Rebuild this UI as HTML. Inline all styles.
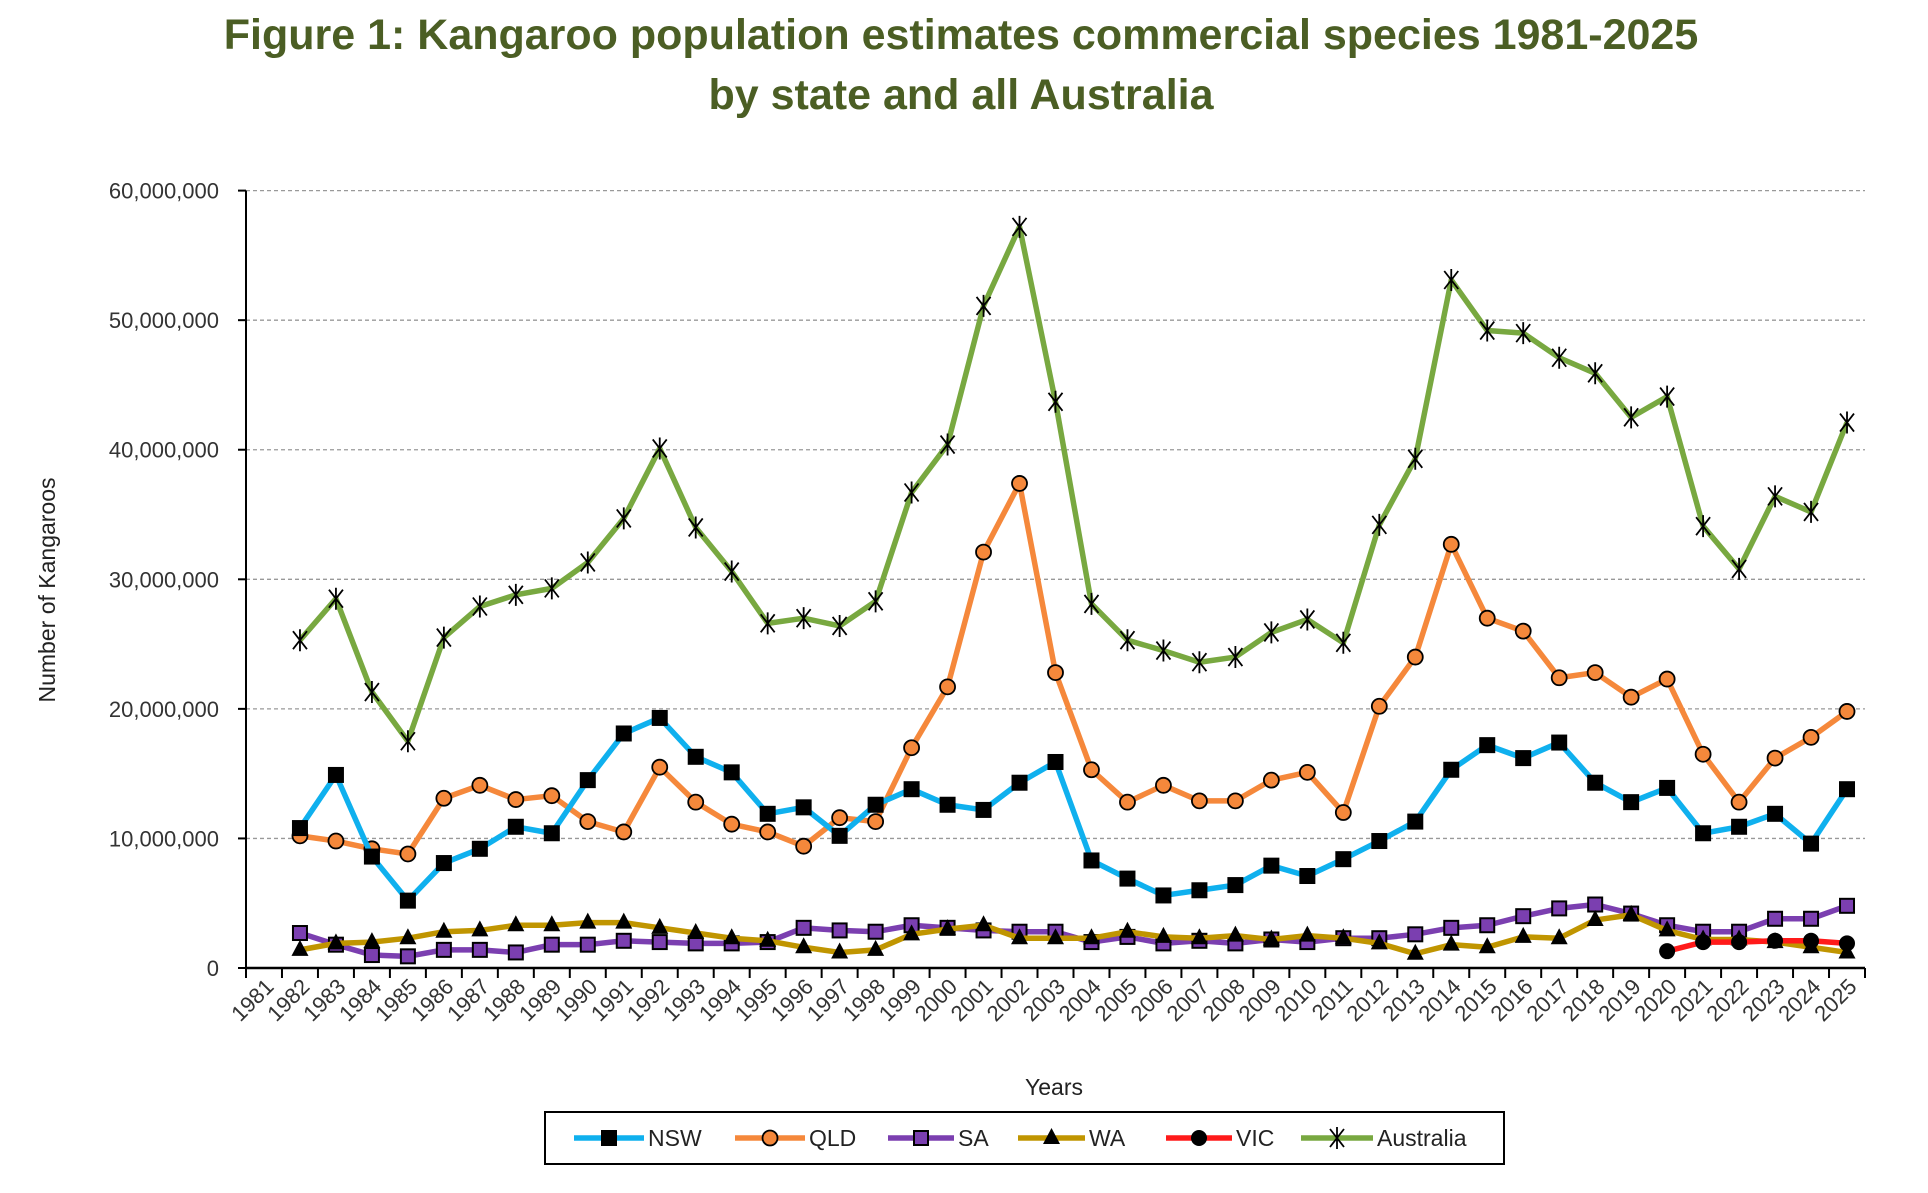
<!DOCTYPE html>
<html><head><meta charset="utf-8"><style>
html,body{margin:0;padding:0;background:#fff;}
svg{display:block;font-family:"Liberation Sans",sans-serif;}
</style></head><body>
<svg id="chart" width="1928" height="1193" viewBox="0 0 1928 1193" xmlns="http://www.w3.org/2000/svg">
<text x="961" y="49" text-anchor="middle" font-size="43" font-weight="bold" fill="#4b5e24">Figure 1: Kangaroo population estimates commercial species 1981-2025</text>
<text x="961" y="109" text-anchor="middle" font-size="43" font-weight="bold" fill="#4b5e24">by state and all Australia</text>
<g id="grid"></g><g id="axes"></g><g id="series"></g>
<text transform="translate(55,590) rotate(-90)" text-anchor="middle" font-size="23" fill="#222">Number  of Kangaroos</text>
<text x="1054" y="1095" text-anchor="middle" font-size="23" fill="#222">Years</text>
<g id="legend"></g>
</svg>
<script>
const years=[];for(let y=1981;y<=2025;y++)years.push(y);
const yTicks=[0,10000000,20000000,30000000,40000000,50000000,60000000];
const yTickLabels=["0","10,000,000","20,000,000","30,000,000","40,000,000","50,000,000","60,000,000"];
const nsw=[null,10.8,14.9,8.6,5.2,8.1,9.2,10.9,10.4,14.5,18.1,19.3,16.3,15.1,11.9,12.4,10.2,12.6,13.8,12.6,12.2,14.3,15.9,8.3,6.9,5.6,6.0,6.4,7.9,7.1,8.4,9.8,11.3,15.3,17.2,16.2,17.4,14.3,12.8,13.9,10.4,10.9,11.9,9.6,13.8];
const qld=[null,10.2,9.8,9.2,8.8,13.1,14.1,13.0,13.3,11.3,10.5,15.5,12.8,11.1,10.5,9.4,11.6,11.3,17.0,21.7,32.1,37.4,22.8,15.3,12.8,14.1,12.9,12.9,14.5,15.1,12.0,20.2,24.0,32.7,27.0,26.0,22.4,22.8,20.9,22.3,16.5,12.8,16.2,17.8,19.8];
const sa=[null,2.7,1.8,1.0,0.9,1.4,1.4,1.2,1.8,1.8,2.1,2.0,1.9,1.9,2.0,3.1,2.9,2.8,3.3,3.1,2.9,2.8,2.8,2.0,2.4,1.9,2.1,1.9,2.2,2.0,2.3,2.3,2.6,3.1,3.3,4.0,4.6,4.9,4.2,3.3,2.8,2.8,3.8,3.8,4.8];
const wa=[null,1.4,1.9,2.0,2.3,2.8,2.9,3.3,3.3,3.5,3.5,3.1,2.7,2.3,2.1,1.6,1.2,1.4,2.6,3.0,3.3,2.3,2.3,2.3,2.8,2.4,2.3,2.5,2.2,2.5,2.3,1.9,1.1,1.8,1.6,2.4,2.3,3.7,4.1,2.9,2.2,2.2,2.0,1.6,1.2];
const vic=[null,null,null,null,null,null,null,null,null,null,null,null,null,null,null,null,null,null,null,null,null,null,null,null,null,null,null,null,null,null,null,null,null,null,null,null,null,null,null,1.3,2.0,2.0,2.1,2.1,1.9];
const aus=[null,25.3,28.5,21.3,17.5,25.5,27.9,28.8,29.3,31.3,34.7,40.1,34.0,30.6,26.6,27.0,26.4,28.3,36.7,40.4,51.1,57.2,43.7,28.1,25.3,24.5,23.6,24.0,25.9,26.9,25.1,34.2,39.3,53.1,49.2,49.0,47.1,45.9,42.5,44.1,34.1,30.8,36.4,35.2,42.1];
const seriesNames=["NSW","QLD","SA","WA","VIC","Australia"];
const NS="http://www.w3.org/2000/svg";
const X0=246,X1=1865,Y0=968,YTOP=190.6,YMAX=60000000;
const cw=(X1-X0)/years.length;
function xs(i){return X0+cw*(i+0.5);}
function ys(v){return Y0-(v/YMAX)*(Y0-YTOP);}
function mk(tag,attrs,parent){const e=document.createElementNS(NS,tag);for(const k in attrs)e.setAttribute(k,attrs[k]);parent.appendChild(e);return e;}
const grid=document.getElementById('grid'),axes=document.getElementById('axes'),ser=document.getElementById('series'),leg=document.getElementById('legend');
yTicks.forEach((t,i)=>{const y=ys(t);
 if(t>0){const l=mk('line',{x1:X0,x2:X1,y1:y,y2:y,stroke:'#999','stroke-width':1.3,'stroke-dasharray':'4,3'},grid);
 
 }
 const tk=mk('line',{x1:X0-8,x2:X0,y1:y,y2:y,stroke:'#000','stroke-width':2},axes);
 
 
 const tx=mk('text',{x:219,y:y+8,'text-anchor':'end','font-size':22,fill:'#333'},axes);tx.textContent=yTickLabels[i];
 
 
});
const ya=mk('line',{x1:X0,x2:X0,y1:YTOP,y2:Y0,stroke:'#000','stroke-width':2},axes);


const xa=mk('line',{x1:X0,x2:X1,y1:Y0,y2:Y0,stroke:'#000','stroke-width':2.5},axes);


for(let i=0;i<=years.length;i++){const x=X0+cw*i;const t=mk('line',{x1:x,x2:x,y1:Y0,y2:Y0+10,stroke:'#000','stroke-width':2},axes);
 
 }
years.forEach((yr,i)=>{const x=xs(i)+11,y=Y0+20;const t=mk('text',{x:x,y:y,'text-anchor':'end','font-size':22,fill:'#333',transform:`rotate(-45 ${x} ${y})`},axes);t.textContent=yr;
 
 });
function marker(type,x,y,g,fill){
 let e;
 if(type==='sq'){e=mk('rect',{x:x-8,y:y-8,width:16,height:16,fill:'#000'},g);}
 else if(type==='osq'){e=mk('rect',{x:x-7,y:y-7,width:14,height:14,fill:fill,stroke:'#000','stroke-width':2},g);}
 else if(type==='ocirc'){e=mk('circle',{cx:x,cy:y,r:7.5,fill:fill,stroke:'#000','stroke-width':1.8},g);}
 else if(type==='circ'){e=mk('circle',{cx:x,cy:y,r:8,fill:'#000'},g);}
 else if(type==='tri'){e=mk('polygon',{points:`${x},${y-10} ${x+8.5},${y+6} ${x-8.5},${y+6}`,fill:'#000'},g);}
 else if(type==='star'){e=mk('path',{d:`M${x-7},${y-9}L${x+7},${y+9}M${x+7},${y-9}L${x-7},${y+9}M${x},${y-11}L${x},${y+11}`,stroke:'#000','stroke-width':1.8,fill:'none'},g);}
 return e;
}
const defs=[
 {name:'NSW',data:nsw,color:'#0fb0ee',m:'sq',slug:'nsw'},
 {name:'QLD',data:qld,color:'#f5883b',m:'ocirc',slug:'qld'},
 {name:'SA',data:sa,color:'#7b3fb0',m:'osq',slug:'sa'},
 {name:'WA',data:wa,color:'#c09500',m:'tri',slug:'wa'},
 {name:'VIC',data:vic,color:'#ff1a1a',m:'circ',slug:'vic'},
 {name:'Australia',data:aus,color:'#78a840',m:'star',slug:'australia'}];
const order=[5,1,0,2,3,4];
order.forEach(k=>{const s=defs[k];const g=mk('g',{},ser);
 
 
 let d='';s.data.forEach((v,i)=>{if(v==null)return;d+=(d?'L':'M')+xs(i)+','+ys(v*1e6);});
 const p=mk('path',{d:d,fill:'none',stroke:s.color,'stroke-width':5.5,'stroke-linejoin':'round'},g);
 
 
 s.data.forEach((v,i)=>{if(v==null)return;const e=marker(s.m,xs(i),ys(v*1e6),g,s.color);
  
  });
});
const lb=mk('rect',{x:545,y:1112,width:959,height:52,fill:'#fff',stroke:'#000','stroke-width':2},leg);


const lpos=[[574,648],[735,809],[888,958],[1018,1089],[1166,1236],[1301,1377]];
defs.forEach((s,i)=>{const g=mk('g',{},leg);
 
 
 const [a,b]=lpos[i];const cy=1138;
 mk('line',{x1:a,x2:b-4,y1:cy,y2:cy,stroke:s.color,'stroke-width':5.5},g);
 marker(s.m,(a+b-4)/2,cy,g,s.color);
 const t=mk('text',{x:b,y:cy+8,'font-size':23,fill:'#222'},g);t.textContent=s.name;
});
</script>
</body></html>
